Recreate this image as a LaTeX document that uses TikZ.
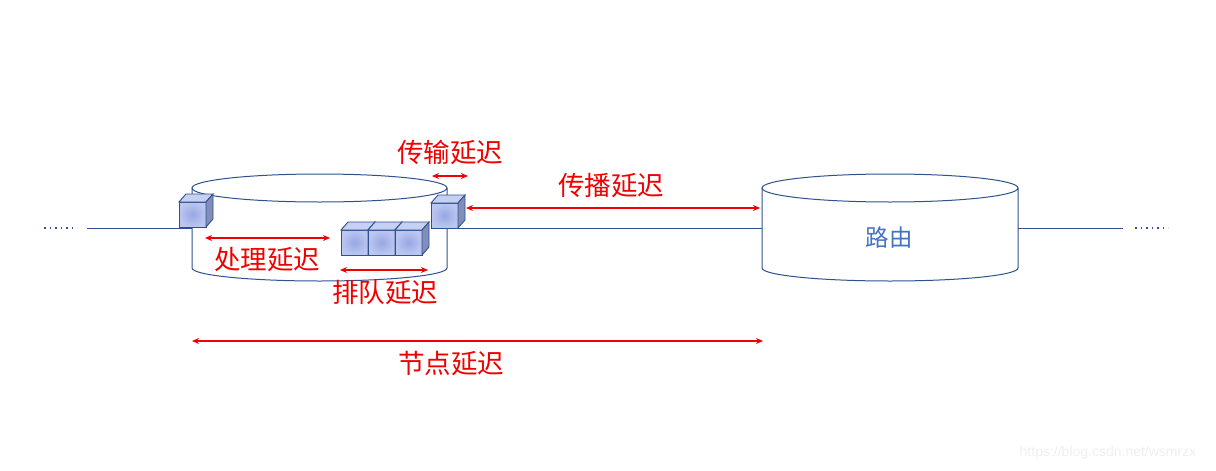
\documentclass[tikz,border=0pt]{standalone}
\usepackage{fontspec}
\newfontfamily\cjk{Noto Sans CJK SC}
\newfontfamily\wmfont{Liberation Sans}
\usetikzlibrary{arrows.meta}
\definecolor{edge}{RGB}{47,82,143}
\definecolor{dred}{RGB}{240,0,0}
\definecolor{rtext}{RGB}{68,114,196}
\definecolor{cubeA}{RGB}{150,168,228}
\definecolor{cubeB}{RGB}{188,199,240}
\definecolor{cubeTop}{RGB}{198,208,242}
\definecolor{cubeSide}{RGB}{128,142,185}
\tikzset{
  wire/.style={edge, line width=1pt},
  dotwire/.style={edge, line width=1.3pt, dash pattern=on 1.5pt off 4pt},
  cyl/.style={edge, line width=1pt},
  dim/.style={dred, line width=1.2pt, {Stealth[length=7pt,width=6pt]}-{Stealth[length=7pt,width=6pt]}},
  lbl/.style={text=dred, font=\cjk\fontsize{26.5}{30}\selectfont, inner sep=0pt},
  cubeedge/.style={draw=edge, line width=0.9pt},
  cube/.pic={
    \shade[inner color=cubeA, outer color=cubeB] (0,0) rectangle (27,25);
    \draw[cubeedge] (0,0) rectangle (27,25);
    \filldraw[cubeedge, fill=cubeTop] (0,0) -- (7,-8) -- (34,-8) -- (27,0) -- cycle;
    \filldraw[cubeedge, fill=cubeSide] (27,0) -- (34,-8) -- (34,17) -- (27,25) -- cycle;
  },
}
\begin{document}
\begin{tikzpicture}[x=1pt,y=-1pt]
\useasboundingbox (0,0) rectangle (1216,471);
\fill[white] (0,0) rectangle (1216,471);

% wire coordinates
\coordinate (ldots1) at (44,228);
\coordinate (ldots2) at (77,228);
\coordinate (lw1) at (87,228);
\coordinate (c1l) at (192,228);
\coordinate (c1r) at (447,228);
\coordinate (c2l) at (762,228);
\coordinate (c2r) at (1018,228);
\coordinate (rw2) at (1123,228);
\coordinate (rdots1) at (1135,228);
\coordinate (rdots2) at (1168,228);

\draw[dotwire] (ldots1) -- (ldots2);
\draw[wire] (lw1) -- (c1l);
\draw[wire] (c1r) -- (c2l);
\draw[wire] (c2r) -- (rw2);
\draw[dotwire] (rdots1) -- (rdots2);

% node cylinder 1
\draw[cyl] (192,188) -- (192,268) arc[start angle=180, end angle=360, x radius=127.5pt, y radius=13pt] -- (447,188);
\draw[cyl] (319.5,188) ellipse[x radius=127.5pt, y radius=14pt];

% router cylinder 2
\draw[cyl, fill=white] (762,188) -- (762,268) arc[start angle=180, end angle=360, x radius=128pt, y radius=13pt] -- (1018,188);
\draw[cyl] (890,188) ellipse[x radius=128pt, y radius=14pt];
\node[text=rtext, font=\cjk\fontsize{23.5}{26}\selectfont, inner sep=0pt] (router) at (889,238) {路由};

% cubes
\pic at (179,202) {cube};
\pic at (431,203) {cube};
\pic at (341,230) {cube};
\pic at (368,230) {cube};
\pic at (395,230) {cube};

% dimension arrows
\coordinate (ta) at (432,176); \coordinate (tb) at (468,176);
\draw[dim] (ta) -- (tb);
\node[lbl] (tlbl) at (450,152) {传输延迟};

\coordinate (pa) at (466,208); \coordinate (pb) at (760,208);
\draw[dim] (pa) -- (pb);
\node[lbl] (plbl) at (611,186) {传播延迟};

\coordinate (ca) at (205,238); \coordinate (cb) at (330,238);
\draw[dim] (ca) -- (cb);
\node[lbl] (clbl) at (267,260) {处理延迟};

\coordinate (qa) at (340,270); \coordinate (qb) at (428,270);
\draw[dim] (qa) -- (qb);
\node[lbl] (qlbl) at (385,293) {排队延迟};

\coordinate (na) at (192,341); \coordinate (nb) at (763,341);
\draw[dim] (na) -- (nb);
\node[lbl] (nlbl) at (451,364) {节点延迟};

% watermark
\node[text=black!6, font=\wmfont\fontsize{14}{16}\selectfont, inner sep=0pt] (wm) at (1108,453) {https://blog.csdn.net/wsmrzx};
\end{tikzpicture}
\end{document}
